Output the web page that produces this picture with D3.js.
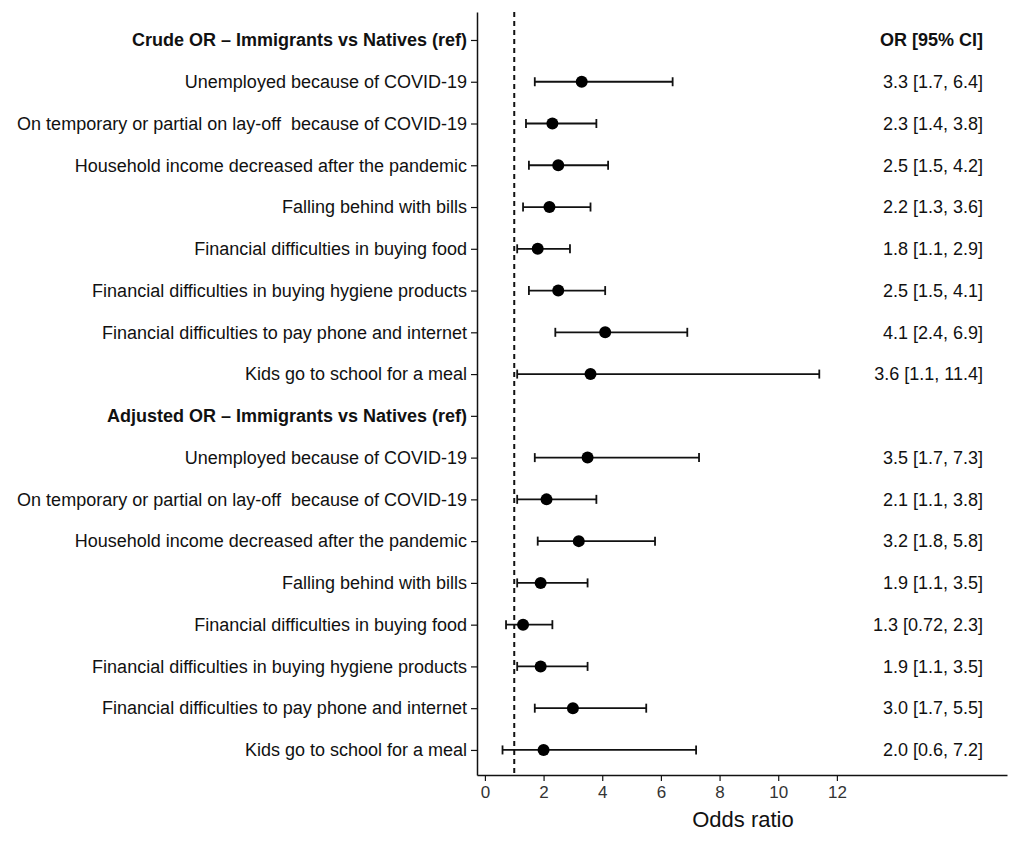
<!DOCTYPE html>
<html>
<head>
<meta charset="utf-8">
<script src="https://cdn.jsdelivr.net/npm/d3@7"></script>
<style>
  html, body { margin: 0; padding: 0; background: #fff; }
  svg { display: block; font-family: "Liberation Sans", Arial, sans-serif; }
  text { white-space: pre; }
</style>
</head>
<body>
<svg id="chart" width="1021" height="841"></svg>
<script>
// ---- data ----
const labels = [
  "Crude OR \u2013 Immigrants vs Natives (ref)",
  "Unemployed because of COVID-19",
  "On temporary or partial on lay-off  because of COVID-19",
  "Household income decreased after the pandemic",
  "Falling behind with bills",
  "Financial difficulties in buying food",
  "Financial difficulties in buying hygiene products",
  "Financial difficulties to pay phone and internet",
  "Kids go to school for a meal",
  "Adjusted OR \u2013 Immigrants vs Natives (ref)",
  "Unemployed because of COVID-19",
  "On temporary or partial on lay-off  because of COVID-19",
  "Household income decreased after the pandemic",
  "Falling behind with bills",
  "Financial difficulties in buying food",
  "Financial difficulties in buying hygiene products",
  "Financial difficulties to pay phone and internet",
  "Kids go to school for a meal"
];
const isHeader = [true,false,false,false,false,false,false,false,false,true,false,false,false,false,false,false,false,false];
const estimate = [null, 3.3, 2.3, 2.5, 2.2, 1.8, 2.5, 4.1, 3.6, null, 3.5, 2.1, 3.2, 1.9, 1.3, 1.9, 3.0, 2.0];
const lower    = [null, 1.7, 1.4, 1.5, 1.3, 1.1, 1.5, 2.4, 1.1, null, 1.7, 1.1, 1.8, 1.1, 0.72, 1.1, 1.7, 0.6];
const upper    = [null, 6.4, 3.8, 4.2, 3.6, 2.9, 4.1, 6.9, 11.4, null, 7.3, 3.8, 5.8, 3.5, 2.3, 3.5, 5.5, 7.2];
const ciText   = ["OR [95% CI]", "3.3 [1.7, 6.4]", "2.3 [1.4, 3.8]", "2.5 [1.5, 4.2]", "2.2 [1.3, 3.6]",
                  "1.8 [1.1, 2.9]", "2.5 [1.5, 4.1]", "4.1 [2.4, 6.9]", "3.6 [1.1, 11.4]", "",
                  "3.5 [1.7, 7.3]", "2.1 [1.1, 3.8]", "3.2 [1.8, 5.8]", "1.9 [1.1, 3.5]",
                  "1.3 [0.72, 2.3]", "1.9 [1.1, 3.5]", "3.0 [1.7, 5.5]", "2.0 [0.6, 7.2]"];
const xTicks = [0, 2, 4, 6, 8, 10, 12];
const refValue = 1;
const xTitle = "Odds ratio";

(function draw() {
  const svg = d3.select("#chart");
  const pLeft = 477, pRight = 1007, pTop = 12, pBottom = 775;
  const x = d3.scaleLinear().domain([-0.27, 17.8]).range([pLeft, pRight]);
  const y = d3.scaleLinear().domain([-0.67, 17.6]).range([pTop, pBottom]);
  const rows = d3.range(labels.length);
  const ink = "#111";
  const fam = "'Liberation Sans', Arial, sans-serif";

  // reference dashed line
  svg.append("line")
    .attr("x1", x(refValue)).attr("x2", x(refValue))
    .attr("y1", pTop).attr("y2", pBottom)
    .attr("stroke", ink).attr("stroke-width", 2)
    .attr("stroke-dasharray", "5,4");

  // y axis
  const yAxis = svg.append("g")
    .attr("transform", `translate(${pLeft},0)`)
    .call(d3.axisLeft(y).tickValues(rows).tickFormat(i => labels[i]).tickSize(6).tickSizeOuter(0).tickPadding(4));
  yAxis.select(".domain").attr("stroke", ink).attr("stroke-width", 1.5);
  yAxis.selectAll(".tick line").attr("stroke", ink).attr("stroke-width", 1.2);
  yAxis.selectAll(".tick text")
    .attr("font-size", 18)
    .attr("fill", ink)
    .attr("font-family", fam)
    .attr("font-weight", i => isHeader[i] ? "bold" : "normal");

  // x axis
  const xAxis = svg.append("g")
    .attr("transform", `translate(0,${pBottom})`)
    .call(d3.axisBottom(x).tickValues(xTicks).tickSize(6).tickSizeOuter(0).tickPadding(5));
  xAxis.select(".domain").attr("stroke", ink).attr("stroke-width", 1.5);
  xAxis.selectAll(".tick line").attr("stroke", ink).attr("stroke-width", 1.2);
  xAxis.selectAll(".tick text")
    .attr("font-size", 17)
    .attr("fill", "#333")
    .attr("font-family", fam);

  svg.append("text")
    .attr("x", 743).attr("y", 827)
    .attr("text-anchor", "middle")
    .attr("font-size", 22)
    .attr("fill", ink)
    .text(xTitle);

  // error bars
  const dataRows = rows.filter(i => estimate[i] !== null);
  const capH = 4.5;
  const g = svg.append("g");
  g.selectAll("line.ci").data(dataRows).join("line")
    .attr("class", "ci")
    .attr("x1", i => x(lower[i])).attr("x2", i => x(upper[i]))
    .attr("y1", i => y(i)).attr("y2", i => y(i))
    .attr("stroke", ink).attr("stroke-width", 1.8);
  g.selectAll("line.capL").data(dataRows).join("line")
    .attr("class", "capL")
    .attr("x1", i => x(lower[i])).attr("x2", i => x(lower[i]))
    .attr("y1", i => y(i) - capH).attr("y2", i => y(i) + capH)
    .attr("stroke", ink).attr("stroke-width", 1.8);
  g.selectAll("line.capU").data(dataRows).join("line")
    .attr("class", "capU")
    .attr("x1", i => x(upper[i])).attr("x2", i => x(upper[i]))
    .attr("y1", i => y(i) - capH).attr("y2", i => y(i) + capH)
    .attr("stroke", ink).attr("stroke-width", 1.8);
  g.selectAll("circle").data(dataRows).join("circle")
    .attr("cx", i => x(estimate[i])).attr("cy", i => y(i))
    .attr("r", 6).attr("fill", "#000");

  // CI text column
  svg.append("g").selectAll("text").data(rows.filter(i => ciText[i] !== "")).join("text")
    .attr("x", 983).attr("y", i => y(i))
    .attr("dy", "0.35em")
    .attr("text-anchor", "end")
    .attr("font-size", 18)
    .attr("fill", ink)
    .attr("font-family", fam)
    .attr("font-weight", i => i === 0 ? "bold" : "normal")
    .text(i => ciText[i]);
})();
</script>
</body>
</html>
